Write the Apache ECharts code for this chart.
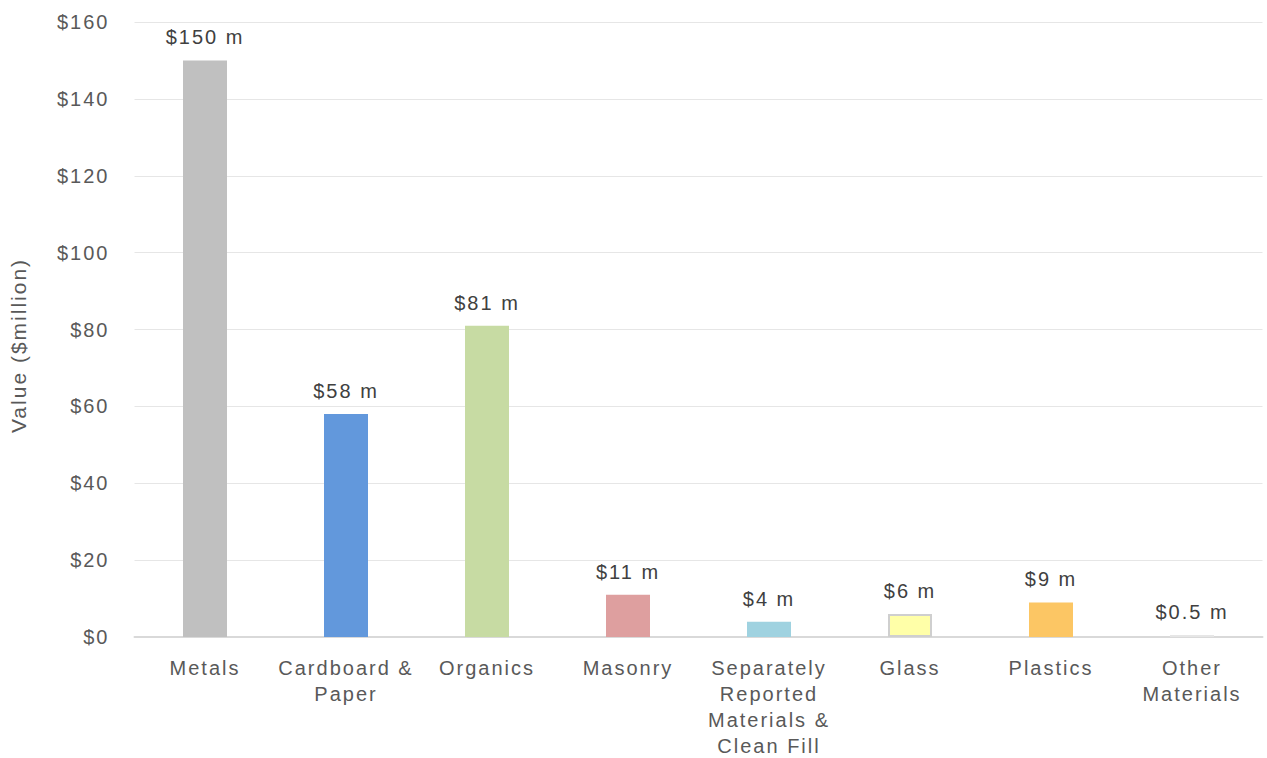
<!DOCTYPE html>
<html>
<head>
<meta charset="utf-8">
<script src="https://cdn.jsdelivr.net/npm/echarts@6/dist/echarts.min.js"></script>
<style>
  html, body { margin: 0; padding: 0; background: #fff; }
  #chart { width: 1267px; height: 758px; }
  /* the reference text is set a little wide */
  #chart svg text { letter-spacing: 2px; }
</style>
</head>
<body>
<div id="chart"></div>
<script>
// chart data
const categories = [
  "Metals",
  "Cardboard &\nPaper",
  "Organics",
  "Masonry",
  "Separately\nReported\nMaterials &\nClean Fill",
  "Glass",
  "Plastics",
  "Other\nMaterials"
];
const values = [150, 58, 81, 11, 4, 6, 9, 0.5];
const barColors = ["#c0c0c0", "#6298dc", "#c7dba3", "#de9f9f", "#9fd2e0", "#ffffa8", "#fcc664", "#e6e6e6"];
const yTicks = [0, 20, 40, 60, 80, 100, 120, 140, 160];

const font = "Liberation Sans, Arial, sans-serif";

let chart = echarts.init(document.getElementById("chart"), null, { renderer: "svg" });
let option = {
  backgroundColor: "#fff",
  animation: false,
  grid: {
    left: 134.5,
    right: 4.5,
    top: 22,
    bottom: 121,
    outerBoundsMode: "none"
  },
  xAxis: {
    type: "category",
    data: categories,
    axisLine: {
      lineStyle: { color: "#d9d9d9", width: 2 }
    },
    axisTick: { show: false },
    axisLabel: {
      color: "#595959",
      fontFamily: font,
      fontSize: 20,
      lineHeight: 26,
      margin: 18,
      interval: 0
    }
  },
  yAxis: {
    type: "value",
    min: yTicks[0],
    max: yTicks[yTicks.length - 1],
    interval: 20,
    name: "Value ($million)",
    nameLocation: "middle",
    nameRotate: 90,
    nameGap: 106,
    nameTextStyle: {
      color: "#595959",
      fontFamily: font,
      fontSize: 21,
      padding: [0, 32, 0, 0]
    },
    axisLine: { show: false },
    axisTick: { show: false },
    axisLabel: {
      color: "#595959",
      fontFamily: font,
      fontSize: 20,
      margin: 25,
      formatter: v => "$" + v
    },
    splitLine: {
      lineStyle: { color: "#e6e6e6", width: 1 }
    }
  },
  series: [
    {
      type: "bar",
      barWidth: 44,
      data: values.map((v, i) => ({
        value: v,
        itemStyle: {
          color: barColors[i],
          borderColor: i == 5 ? "#cfcfcf" : barColors[i],
          borderWidth: i == 5 ? 2 : 0
        }
      })),
      label: {
        show: true,
        position: "top",
        distance: 13,
        color: "#404040",
        fontFamily: font,
        fontSize: 20,
        formatter: p => "$" + p.value + " m"
      }
    }
  ]
};
chart.setOption(option);
</script>
</body>
</html>
